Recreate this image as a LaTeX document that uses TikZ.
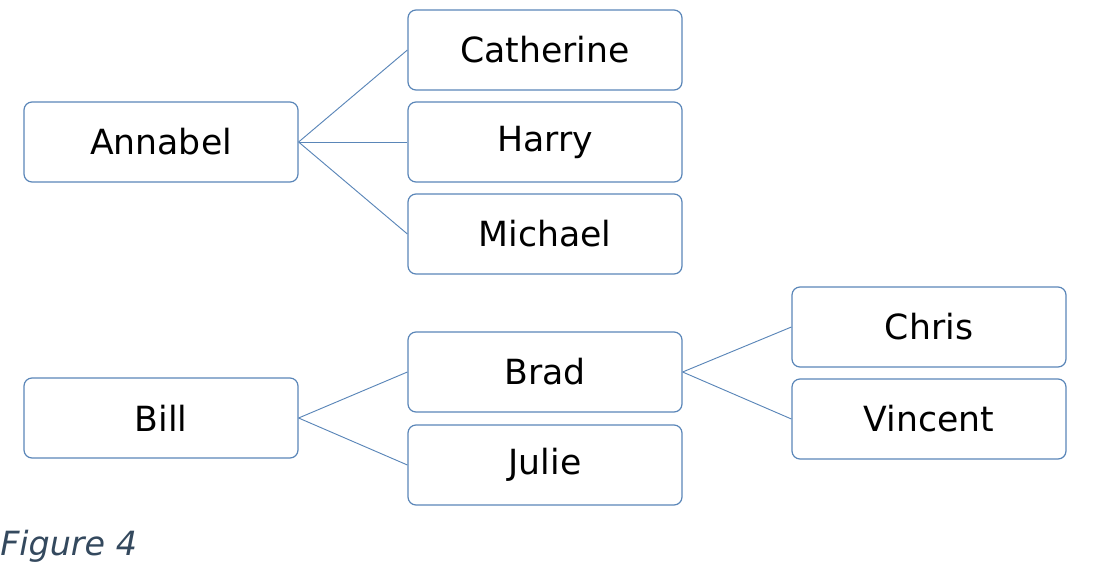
\documentclass[tikz,border=0pt]{standalone}
\usepackage{fontspec}
\setmainfont{DejaVu Sans}
\begin{document}
\begin{tikzpicture}[x=0.75pt,y=-0.75pt,
  bx/.style={draw=boxc,line width=0.9pt,rounded corners=6pt,minimum width=205.5pt,minimum height=60pt,inner sep=0pt,font=\fontsize{26}{30}\selectfont},
  ln/.style={draw=boxc,line width=0.7pt}]
\definecolor{boxc}{HTML}{5A86B8}
\definecolor{capc}{HTML}{34495E}
\useasboundingbox (0,0) rectangle (1093,579);
\node[bx] (an) at (161,142) {Annabel};
\node[bx] (ca) at (545,50) {Catherine};
\node[bx] (ha) at (545,142) {Harry};
\node[bx] (mi) at (545,234) {Michael};
\node[bx] (bi) at (161,418) {Bill};
\node[bx] (br) at (545,372) {Brad};
\node[bx] (ju) at (545,465) {Julie};
\node[bx] (ch) at (929,327) {Chris};
\node[bx] (vi) at (929,419) {Vincent};
\foreach \c in {ca,ha,mi} \draw[ln] (an.east) -- (\c.west);
\foreach \c in {br,ju} \draw[ln] (bi.east) -- (\c.west);
\foreach \c in {ch,vi} \draw[ln] (br.east) -- (\c.west);
\node[anchor=west,inner sep=0pt,text=capc,font=\fontsize{25}{30}\selectfont\itshape] (fig) at (0,546) {Figure 4};
\end{tikzpicture}
\end{document}
